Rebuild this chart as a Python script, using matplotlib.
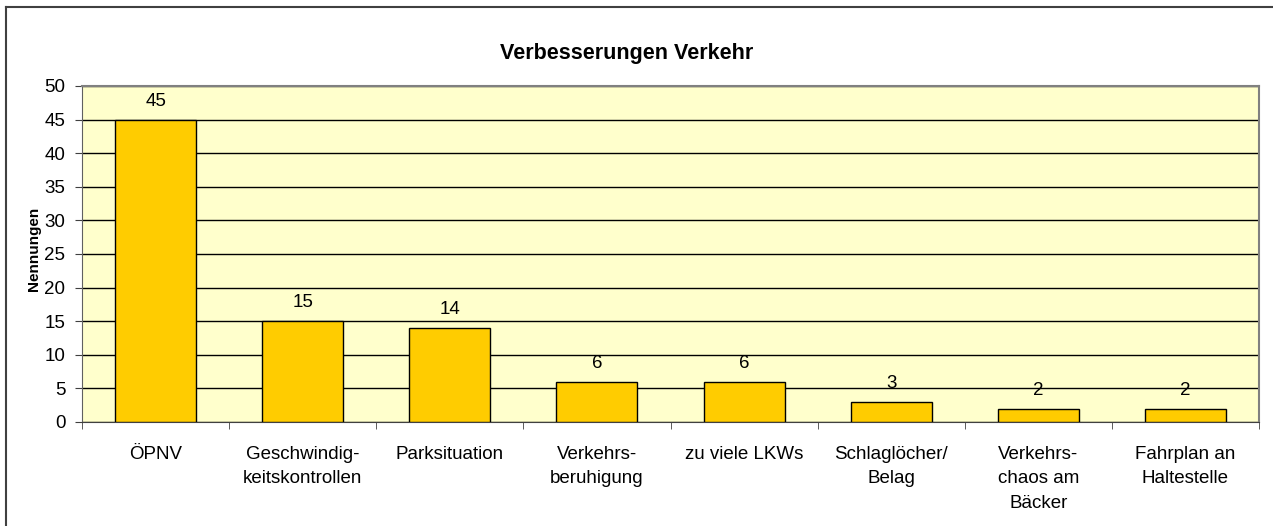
import numpy as np
import matplotlib
matplotlib.use('Agg')
import matplotlib.pyplot as plt
from matplotlib.lines import Line2D

plt.rcParams['font.family'] = ['Liberation Sans', 'DejaVu Sans']

categories = ['ÖPNV', 'Geschwindig-\nkeitskontrollen', 'Parksituation', 'Verkehrs-\nberuhigung',
              'zu viele LKWs', 'Schlaglöcher/\nBelag', 'Verkehrs-\nchaos am\nBäcker', 'Fahrplan an\nHaltestelle']
values = [45, 15, 14, 6, 6, 3, 2, 2]
yticks = [0, 5, 10, 15, 20, 25, 30, 35, 40, 45, 50]

W, H = 1273, 526
fig = plt.figure(figsize=(W/100, H/100), dpi=100)
ax = fig.add_axes([82/W, 1-422/H, (1259-82)/W, (422-86)/H])
ax.set_facecolor('#FFFFCC')

x = np.arange(len(values))
ax.bar(x, values, width=0.55, color='#FFCC00', edgecolor='black', linewidth=1, zorder=3)
for xi, v in zip(x, values):
    ax.annotate(str(v), (xi, v), xytext=(0, 7), textcoords='offset points',
                ha='center', va='bottom', fontsize=13.5, zorder=4)

ax.set_xlim(-0.5, len(values)-0.5)
ax.set_ylim(0, 50)
ax.set_yticks(yticks)
ax.tick_params(axis='y', labelsize=13.5, length=5, color='#404040', pad=7)
ax.set_xticks(x)
ax.set_xticklabels(categories, fontsize=13.5, linespacing=1.6, va='top')
ax.set_xticks(np.arange(len(values)+1)-0.5, minor=True)
ax.tick_params(axis='x', which='major', length=0, pad=17)
ax.tick_params(axis='x', which='minor', length=5, color='#404040')
ax.yaxis.grid(True, color='black', linewidth=1, zorder=1)
ax.set_axisbelow(True)
for s in ['top', 'right']:
    ax.spines[s].set_color('#808080')
    ax.spines[s].set_linewidth(1.5)
ax.spines['left'].set_color('#606060')
ax.spines['bottom'].set_color('#404040')

ax.set_ylabel('Nennungen', fontsize=11, fontweight='bold')
ax.yaxis.set_label_coords(-0.0348, 0.515)

fig.text(627/W, 1-53/H, 'Verbesserungen Verkehr', ha='center', va='center',
         fontsize=15.5, fontweight='bold')

# outer frame (top and left edges)
fig.add_artist(Line2D([6/W, 1.0], [1-7/H, 1-7/H], transform=fig.transFigure, color='#404040', linewidth=1.5))
fig.add_artist(Line2D([6/W, 6/W], [0.0, 1-7/H], transform=fig.transFigure, color='#404040', linewidth=1.5))

fig.savefig('out.png', dpi=100)
